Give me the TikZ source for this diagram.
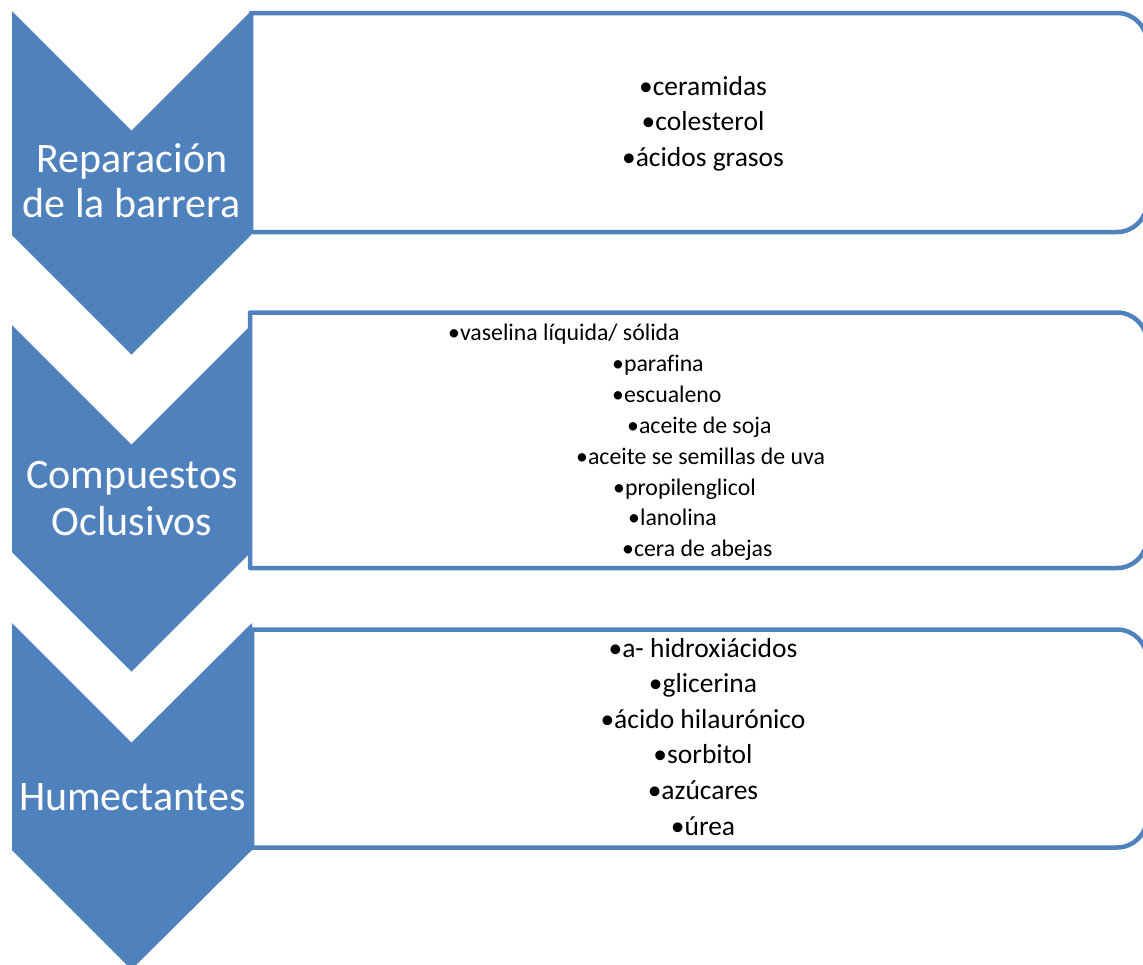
\documentclass[tikz,border=0pt]{standalone}
\usepackage{fontspec}
\setmainfont{Carlito}[Ligatures={NoCommon}]
\definecolor{obl}{HTML}{4F81BD}
\begin{document}
\begin{tikzpicture}[x=1pt,y=-1pt,
  chev/.style={fill=obl,draw=none},
  listbox/.style={draw=obl,line width=4.5pt,fill=white,line join=round},
  chevtext/.style={text=white,font=\fontsize{42}{45}\selectfont,inner sep=0,anchor=base},
  itemc/.style={anchor=base,font=\fontsize{27.5}{33}\selectfont,inner sep=0},
  iteml/.style={anchor=base west,font=\fontsize{23.8}{28}\selectfont,inner sep=0}]
\useasboundingbox (0,0) rectangle (1143,964);
% boxes
\draw[listbox] (251,232) -- (251,13) -- (1117,13) .. controls (1133.57,13) and (1147,26.43) .. (1147,43) -- (1147,202) .. controls (1147,218.57) and (1133.57,232) .. (1117,232) -- cycle;
\draw[listbox] (250,568) -- (250,312.5) -- (1117,312.5) .. controls (1133.57,312.5) and (1147,325.93) .. (1147,342.5) -- (1147,538) .. controls (1147,554.57) and (1133.57,568) .. (1117,568) -- cycle;
\draw[listbox] (252,847.5) -- (252,629.5) -- (1117,629.5) .. controls (1133.57,629.5) and (1147,642.93) .. (1147,659.5) -- (1147,817.5) .. controls (1147,834.07) and (1133.57,847.5) .. (1117,847.5) -- cycle;
% chevrons
\fill[chev] (12,11) -- (131.5,130.5) -- (251,11) -- (251,235) -- (131.5,354.5) -- (12,235) -- cycle;
\fill[chev] (12,325) -- (131.5,444.5) -- (251,325) -- (251,552) -- (131.5,671.5) -- (12,552) -- cycle;
\fill[chev] (12,623) -- (131.5,742.5) -- (252,623) -- (252,850) -- (131.5,969.5) -- (12,850) -- cycle;
% chevron labels
\node[chevtext] (c1a) at (132,172) {Reparación};
\node[chevtext] (c1b) at (131.5,217) {de la barrera};
\node[chevtext] (c2a) at (132,488) {Compuestos};
\node[chevtext] (c2b) at (132,535) {Oclusivos};
\node[chevtext] (c3a) at (132.5,810) {Humectantes};
% box 1 items
\node[itemc] (b1a) at (703,95) {•ceramidas};
\node[itemc] (b1b) at (703,130.6) {•colesterol};
\node[itemc] (b1c) at (703,166.2) {•ácidos grasos};
% box 2 items
\node[iteml] (b2a) at (448,340) {•vaselina líquida/ sólida};
\node[iteml] (b2b) at (612,371) {•parafina};
\node[iteml] (b2c) at (612,402) {•escualeno};
\node[iteml] (b2d) at (627,433) {•aceite de soja};
\node[iteml] (b2e) at (576,464) {•aceite se semillas de uva};
\node[iteml] (b2f) at (613,495) {•propilenglicol};
\node[iteml] (b2g) at (628,525) {•lanolina};
\node[iteml] (b2h) at (622,556) {•cera de abejas};
% box 3 items
\node[itemc] (b3a) at (703,657) {•a- hidroxiácidos};
\node[itemc] (b3b) at (703,692.6) {•glicerina};
\node[itemc] (b3c) at (703,728.2) {•ácido hilaurónico};
\node[itemc] (b3d) at (703,763.8) {•sorbitol};
\node[itemc] (b3e) at (703,799.4) {•azúcares};
\node[itemc] (b3f) at (703,835) {•úrea};
\end{tikzpicture}
\end{document}
